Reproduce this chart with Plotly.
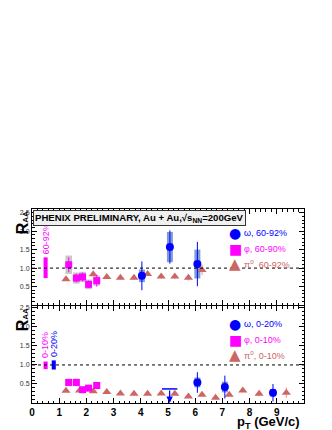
import plotly.graph_objs as go

# peripheral panel (top)
pi0_per_x = [1.25, 1.75, 2.25, 2.75, 3.25, 3.75, 4.25, 4.75, 5.25, 5.75, 6.25]
pi0_per_y = [0.70, 0.75, 0.83, 0.76, 0.74, 0.74, 0.84, 0.77, 0.77, 0.74, 0.95]
pi0_per_err = [0.04, 0.05, 0.05, 0.05, 0.05, 0.05, 0.05, 0.06, 0.07, 0.08, 0.14]

phi_per_x = [1.35, 1.63, 1.86, 2.08, 2.38]
phi_per_y = [1.09, 0.73, 0.76, 0.56, 0.66]
phi_per_stat = [0.20, 0.12, 0.12, 0.10, 0.16]
phi_per_sys = [0.25, 0.15, 0.14, 0.13, 0.14]

omega_per_x = [4.04, 5.07, 6.08]
omega_per_y = [0.79, 1.57, 1.11]
omega_per_stat = [0.39, 0.45, 0.60]
omega_per_sys = [0.17, 0.41, 0.39]

# central panel (bottom)
pi0_cen_x = [1.25, 1.75, 2.25, 2.75, 3.25, 3.75, 4.25, 4.75, 5.25, 5.75,
             6.25, 6.75, 7.25, 7.75, 8.35, 9.35]
pi0_cen_y = [0.32, 0.33, 0.31, 0.29, 0.25, 0.24, 0.24, 0.25, 0.24, 0.17,
             0.22, 0.14, 0.22, 0.33, 0.24, 0.27]
pi0_cen_err = [0.02, 0.02, 0.02, 0.02, 0.02, 0.02, 0.02, 0.02, 0.03, 0.03,
               0.03, 0.04, 0.04, 0.05, 0.06, 0.14]

phi_cen_x = [1.35, 1.63, 1.86, 2.08, 2.38]
phi_cen_y = [0.54, 0.54, 0.35, 0.39, 0.46]
phi_cen_stat = [0.08, 0.08, 0.05, 0.05, 0.09]
phi_cen_sys = [0.10, 0.10, 0.06, 0.07, 0.08]

omega_cen_x = [6.08, 7.09, 8.86]
omega_cen_y = [0.54, 0.42, 0.27]
omega_cen_stat = [0.27, 0.30, 0.23]
omega_cen_sys = [0.13, 0.14, 0.10]

omega_ul_x = [5.06]
omega_ul_y = [0.37]

# normalisation boxes near x = 0.5
norm_per = dict(x=[0.5], lo=[0.73], hi=[1.29], label=['60-92%'], color=['#ff00ff'])
norm_cen = dict(x=[0.5, 0.8], lo=[0.89, 0.88], hi=[1.09, 1.12],
                label=['0-10%', '0-20%'], color=['#ff00ff', '#0000ff'])

x_ticks = [0, 1, 2, 3, 4, 5, 6, 7, 8, 9]
y_ticks = [0.5, 1.0, 1.5, 2.0, 2.5]

legend_per = ['ω, 60-92%', 'φ, 60-90%', 'π<sup>o</sup>, 60-92%']
legend_cen = ['ω, 0-20%', 'φ, 0-10%', 'π<sup>o</sup>, 0-10%']

OMEGA = '#0000ff'
OMEGA_SYS = 'rgb(125,155,215)'
PHI = '#ff00ff'
PHI_SYS = '#c8c8c8'
PI0 = '#cc6666'
PI0_ERR = '#e39a9a'
FONT = 'Liberation Sans'

# the page body has an 8px margin, so the figure is drawn 8px in from the corner
OFF = 8
LEFT, RIGHT, TOP, BOTTOM = 28, 304, 209, 405   # plot area in window pixels
W, H = 332 - OFF, 430 - OFF
ML, MT = LEFT - OFF, TOP - OFF
MR, MB = 332 - RIGHT, 430 - BOTTOM
PW, PH = RIGHT - LEFT, BOTTOM - TOP


def px(xp):
    return (xp - LEFT) / PW


def py(yp):
    return (BOTTOM - yp) / PH


fig = go.Figure()


def sys_boxes(x, y, sys, color, width, xa, ya):
    fig.add_trace(go.Bar(
        x=x, y=[2 * s for s in sys], base=[v - s for v, s in zip(y, sys)],
        width=width, marker=dict(color=color, line=dict(width=0)),
        xaxis=xa, yaxis=ya, hoverinfo='skip'))


def points(x, y, err, color, err_color, symbol, size, xa, ya):
    fig.add_trace(go.Scatter(
        x=x, y=y, mode='markers',
        marker=dict(symbol=symbol, size=size, color=color, line=dict(width=0)),
        error_y=dict(type='data', array=err, color=err_color, thickness=1, width=0),
        xaxis=xa, yaxis=ya))


for panel, xa, ya in [('per', 'x', 'y'), ('cen', 'x2', 'y2')]:
    nb = norm_per if panel == 'per' else norm_cen
    fig.add_trace(go.Bar(
        x=nb['x'], y=[h - l for h, l in zip(nb['hi'], nb['lo'])], base=nb['lo'],
        width=0.15, marker=dict(color=nb['color'], line=dict(width=0)),
        xaxis=xa, yaxis=ya, hoverinfo='skip'))
    for xv, hv, lab, col in zip(nb['x'], nb['hi'], nb['label'], nb['color']):
        fig.add_annotation(x=xv, y=hv + 0.03, xref=xa, yref=ya, text=lab,
                           textangle=-90, showarrow=False, yanchor='bottom',
                           xanchor='center', font=dict(family=FONT, size=9, color=col))

sys_boxes(phi_per_x, phi_per_y, phi_per_sys, PHI_SYS, 0.24, 'x', 'y')
sys_boxes(omega_per_x, omega_per_y, omega_per_sys, OMEGA_SYS, 0.22, 'x', 'y')
points(pi0_per_x, pi0_per_y, pi0_per_err, PI0, PI0_ERR, 'triangle-up', 8, 'x', 'y')
points(phi_per_x, phi_per_y, phi_per_stat, PHI, PHI, 'square', 7, 'x', 'y')
points(omega_per_x, omega_per_y, omega_per_stat, OMEGA, OMEGA, 'circle', 8, 'x', 'y')

sys_boxes(phi_cen_x, phi_cen_y, phi_cen_sys, PHI_SYS, 0.24, 'x2', 'y2')
sys_boxes(omega_cen_x, omega_cen_y, omega_cen_sys, OMEGA_SYS, 0.22, 'x2', 'y2')
points(pi0_cen_x, pi0_cen_y, pi0_cen_err, PI0, PI0_ERR, 'triangle-up', 8, 'x2', 'y2')
points(phi_cen_x, phi_cen_y, phi_cen_stat, PHI, PHI, 'square', 7, 'x2', 'y2')
points(omega_cen_x, omega_cen_y, omega_cen_stat, OMEGA, OMEGA, 'circle', 8, 'x2', 'y2')

# upper limit: cap + arrow down to zero
fig.add_trace(go.Scatter(
    x=omega_ul_x, y=omega_ul_y, mode='markers',
    marker=dict(symbol='line-ew-open', size=11, color=OMEGA, line=dict(width=1.5, color=OMEGA)),
    xaxis='x2', yaxis='y2'))
for xv, yv in zip(omega_ul_x, omega_ul_y):
    fig.add_annotation(x=xv, y=0, ax=xv, ay=yv, xref='x2', yref='y2',
                       axref='x2', ayref='y2', showarrow=True, arrowhead=2,
                       arrowsize=1, arrowwidth=1.3, arrowcolor=OMEGA, text='')

# dashed unity lines
for xr, yr in [('x', 'y'), ('x2', 'y2')]:
    fig.add_shape(type='line', x0=0, x1=10, y0=1, y1=1, xref=xr, yref=yr,
                  line=dict(color='black', width=1, dash='dot'))

axis_common = dict(
    showline=True, linecolor='black', linewidth=1, mirror='allticks',
    ticks='inside', ticklen=5, tickcolor='black', showgrid=False, zeroline=False,
)
fig.update_layout(
    width=W, height=H, margin=dict(l=ML, r=MR, t=MT, b=MB),
    paper_bgcolor='white', plot_bgcolor='white', showlegend=False,
    barmode='overlay', font=dict(family=FONT),
    xaxis=dict(axis_common, range=[0, 10], anchor='y', tickvals=x_ticks,
               showticklabels=False,
               minor=dict(ticks='inside', ticklen=2.5, dtick=0.2, tickcolor='black')),
    yaxis=dict(axis_common, range=[0, 2.6], domain=[0.505, 1], anchor='x',
               tickvals=y_ticks, ticktext=['%.1f' % v for v in y_ticks],
               tickfont=dict(size=7, color='#333333'),
               minor=dict(ticks='inside', ticklen=2.5, dtick=0.1, tickcolor='black')),
    xaxis2=dict(axis_common, range=[0, 10], anchor='y2', tickvals=x_ticks,
                tickfont=dict(size=10, color='black', weight='bold'),
                minor=dict(ticks='inside', ticklen=2.5, dtick=0.2, tickcolor='black')),
    yaxis2=dict(axis_common, range=[0, 2.55], domain=[0, 0.5], anchor='x2',
                tickvals=y_ticks, ticktext=['%.1f' % v for v in y_ticks],
                tickfont=dict(size=7, color='#333333'),
                minor=dict(ticks='inside', ticklen=2.5, dtick=0.1, tickcolor='black')),
)

# title box
fig.add_annotation(
    x=px(29), y=py(210), xref='paper', yref='paper', xanchor='left', yanchor='top',
    text='<b>PHENIX PRELIMINARY, Au + Au,√s<sub>NN</sub>=200GeV</b>',
    showarrow=False, bgcolor='#f0f0f0', bordercolor='#333333', borderwidth=1,
    borderpad=1, font=dict(family=FONT, size=9.6, color='black'))

# axis titles
for ytop in [209, 307]:
    fig.add_annotation(x=px(8), y=py(ytop), xref='paper', yref='paper',
                       xanchor='left', yanchor='top', textangle=-90,
                       text='<b>R<span style="font-size:8px">AA</span></b>',
                       showarrow=False,
                       font=dict(family=FONT, size=16, color='black'))
fig.add_annotation(x=px(302), y=py(424.5), xref='paper', yref='paper',
                   xanchor='right', yanchor='middle', showarrow=False,
                   text='<b>p<sub>T</sub> (GeV/c)</b>',
                   font=dict(family=FONT, size=13, color='black'))

# legends
glyphs = [('●', OMEGA, 14), ('■', PHI, 14), ('▲', PI0, 15)]
for labels, rows in [(legend_per, [233, 249, 264.5]), (legend_cen, [325.5, 341, 357])]:
    for (g, col, gs), lab, yp in zip(glyphs, labels, rows):
        fig.add_annotation(x=px(234), y=py(yp), xref='paper', yref='paper',
                           xanchor='center', yanchor='middle', text=g, showarrow=False,
                           font=dict(family='DejaVu Sans', size=gs, color=col))
        fig.add_annotation(x=px(241), y=py(yp), xref='paper', yref='paper',
                           xanchor='left', yanchor='middle', text=lab, showarrow=False,
                           font=dict(family=FONT, size=9, color=col))

fig.write_html("out.html")
